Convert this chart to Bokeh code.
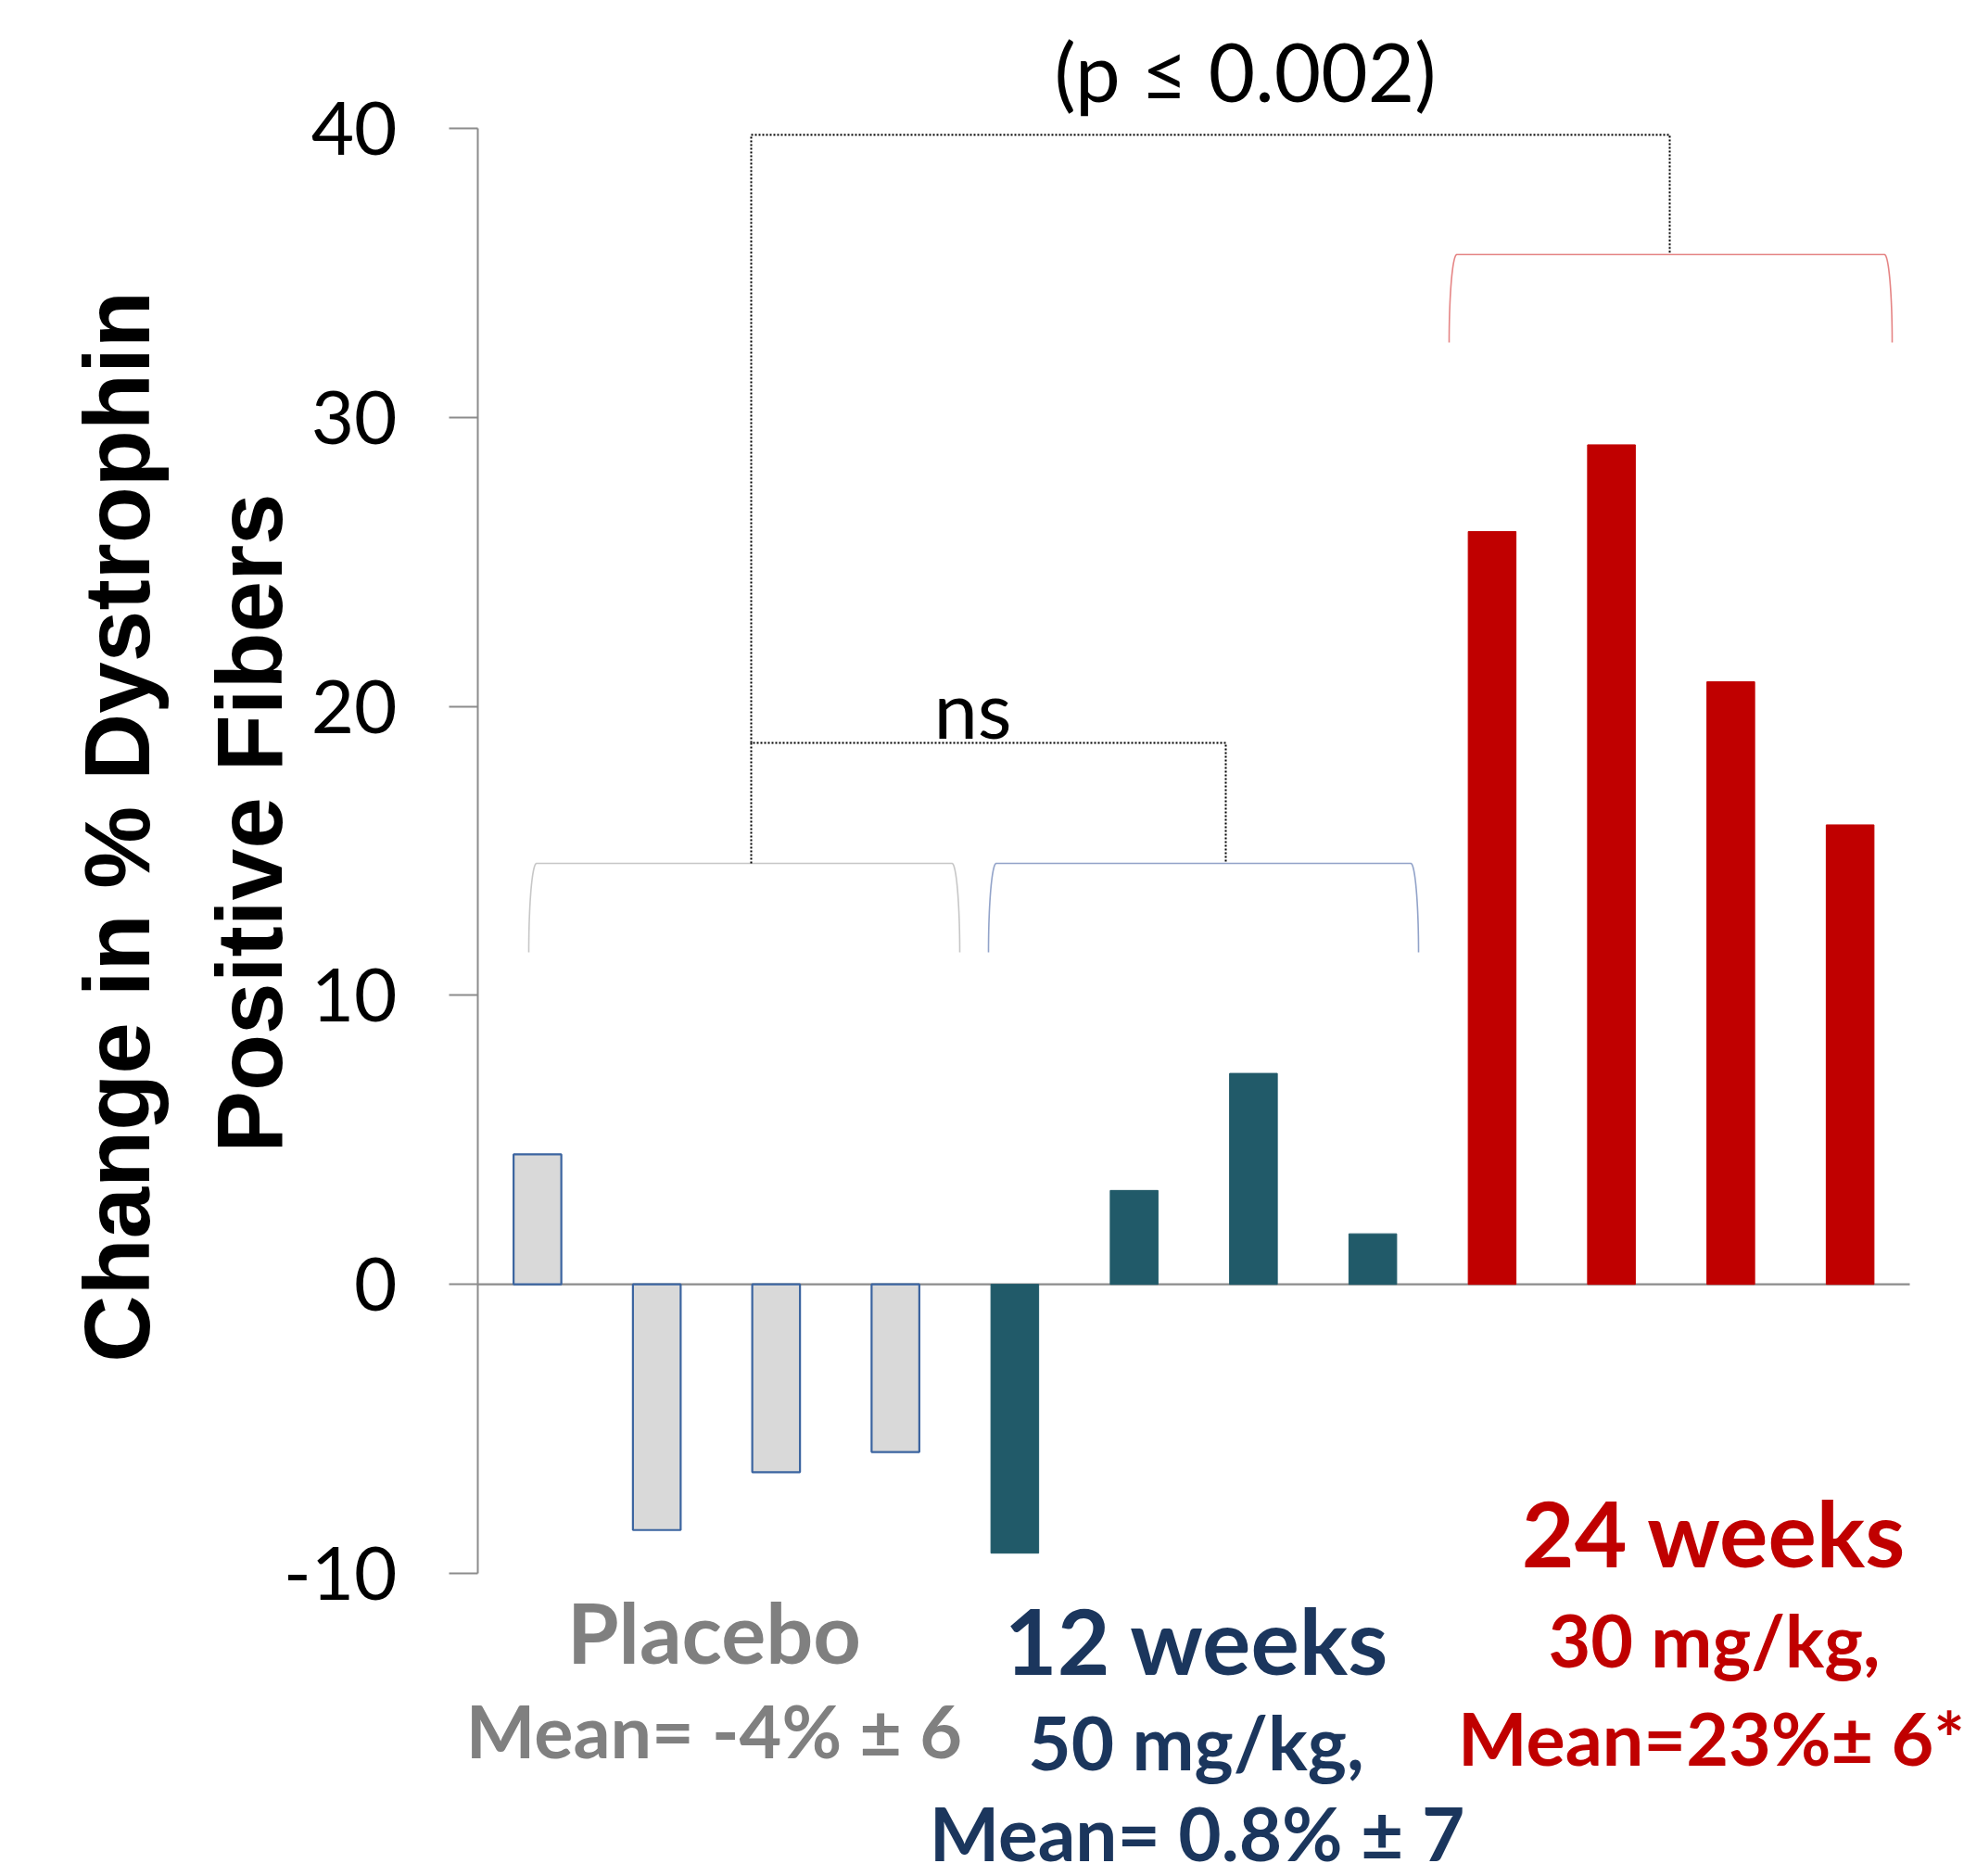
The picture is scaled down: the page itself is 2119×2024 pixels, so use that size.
import numpy as np
from bokeh.plotting import figure
from bokeh.models import LinearAxis, FixedTicker, ColumnDataSource, Range1d, Label, HTMLLabel
from bokeh.embed import file_html
from bokeh.resources import INLINE

# ---------------- data ----------------
groups = ["Placebo", "12 weeks", "24 weeks"]
placebo_vals = [4.5, -8.5, -6.5, -5.8]
wk12_vals = [-9.3, 3.25, 7.3, 1.75]
wk24_vals = [26.05, 29.05, 20.85, 15.9]
y_ticks = [-10, 0, 10, 20, 30, 40]
y_title = ["Change in % Dystrophin", "Positive Fibers"]

# ---------------- layout ----------------
W, H = 2119, 2020
AXL = 515                     # page px of x=0 (y axis position)
AX_T, AX_B = 138, 1697        # page px of y=40 and y=-10
NCAT = 12
XS = (2060 - AXL) / NCAT
YS = (AX_B - AX_T) / 50.0
def X(px): return (px - AXL) / XS
def Y(py): return 40 - (py - AX_T) / YS

GRAY_T = "#808080"
NAVY = "#1B365D"
RED = "#C00000"
TEAL = "#215A69"
AXC = "#8C8C8C"
BASE_K = 0.37  # baseline correction (fraction of font size)

p = figure(width=W, height=H, title=None, toolbar_location=None,
           output_backend="svg", x_axis_type=None, y_axis_type=None,
           x_range=Range1d(X(0), X(W)), y_range=Range1d(Y(H), Y(0)),
           min_border=0, outline_line_color=None)

# ---------------- y axis (drawn inside the frame at x = 0) ----------------
yax = LinearAxis(ticker=FixedTicker(ticks=y_ticks), bounds=(-10, 40), fixed_location=0)
yax.axis_line_color = AXC
yax.axis_line_width = 2
yax.major_tick_line_color = AXC
yax.major_tick_line_width = 2
yax.major_tick_out = 31
yax.major_tick_in = 0
yax.minor_tick_line_color = None
yax.major_label_standoff = 56
yax.major_label_text_font = "Lato"
yax.major_label_text_font_size = "80px"
yax.major_label_text_color = "black"
yax.major_label_overrides = {-10: "-10"}
p.add_layout(yax, "left")

# zero baseline across the 12 categories
p.segment(x0=[0], y0=[0], x1=[NCAT], y1=[0], line_color=AXC, line_width=2.2)

# ---------------- bars ----------------
vals = placebo_vals + wk12_vals + wk24_vals
xs = [i + 0.5 for i in range(len(vals))]
fills = ["#D9D9D9"] * len(placebo_vals) + [TEAL] * len(wk12_vals) + [RED] * len(wk24_vals)
lines = ["#3B64A0"] * len(placebo_vals) + [TEAL] * len(wk12_vals) + [RED] * len(wk24_vals)
widths = [2.2] * len(placebo_vals) + [1.0] * len(wk12_vals) + [1.0] * len(wk24_vals)
src = ColumnDataSource(dict(x=xs, top=vals, fill=fills, line=lines, lw=widths))
p.vbar(x="x", top="top", bottom=0, width=0.4, fill_color="fill", line_color="line",
       line_width="lw", source=src)

# ---------------- brackets ----------------
def bracket(x0, x1, yb, yt, color):
    ins = 0.065
    th = np.linspace(0, np.pi / 2, 40)
    lx = x0 + ins * (1 - np.cos(th))
    ly = yb + (yt - yb) * np.sin(th)
    rx = x1 - ins * (1 - np.cos(th[::-1]))
    ry = yb + (yt - yb) * np.sin(th[::-1])
    p.line(np.concatenate([lx, rx]), np.concatenate([ly, ry]), line_color=color,
           line_width=1.6, line_alpha=0.85)

bracket(X(570), X(1035), Y(1027), Y(931), "#BDBDBD")
bracket(X(1066), X(1530), Y(1027), Y(931), "#7F93C0")
bracket(X(1563), X(2041), Y(369), Y(274), "#E07070")

# dotted connectors
p.line([X(810), X(810), X(1322), X(1322)], [Y(931), Y(801), Y(801), Y(931)],
       line_color="black", line_width=2, line_dash="2 2")
p.line([X(810), X(810), X(1801), X(1801)], [Y(801), Y(145), Y(145), Y(274)],
       line_color="black", line_width=2, line_dash="2 2")

# ---------------- texts ----------------
def txt(px, py, s, size, color="black", style="normal"):
    py = py - BASE_K * size
    p.add_layout(Label(x=X(px), y=Y(py), text=s, text_font="Lato",
                       text_font_size=f"{size}px", text_font_style=style,
                       text_color=color, text_align="center",
                       text_baseline="alphabetic"))

txt(1343, 108, "(p \u2264 0.002)", 87)
txt(1049, 795, "ns", 85)

txt(770, 1793, groups[0], 90, GRAY_T, "bold")
txt(770, 1895, "Mean= -4% \u00b1 6", 79, GRAY_T, "bold")

txt(1291, 1805, groups[1], 98, NAVY, "bold")
txt(1290, 1908, "50 mg/kg,", 80, NAVY, "bold")
txt(1291, 2006, "Mean= 0.8% \u00b1 7", 80, NAVY, "bold")

txt(1849, 1689, groups[2], 98, RED, "bold")
txt(1849, 1797, "30 mg/kg,", 79, RED, "bold")
txt(1846, 1903, "Mean=23%\u00b1 6*", 79, RED, "bold")

# y-axis title: two rotated lines as HTML labels
for cx, cy, s in [(126, 892, y_title[0]), (269, 888, y_title[1])]:
    p.add_layout(HTMLLabel(x=X(cx), y=Y(cy), text=s, angle=float(np.pi / 2),
                           text_font="Lato", text_font_size="100px",
                           text_font_style="bold", text_color="black",
                           text_align="center", text_baseline="middle"))

open("out.html", "w").write(file_html(p, INLINE))
